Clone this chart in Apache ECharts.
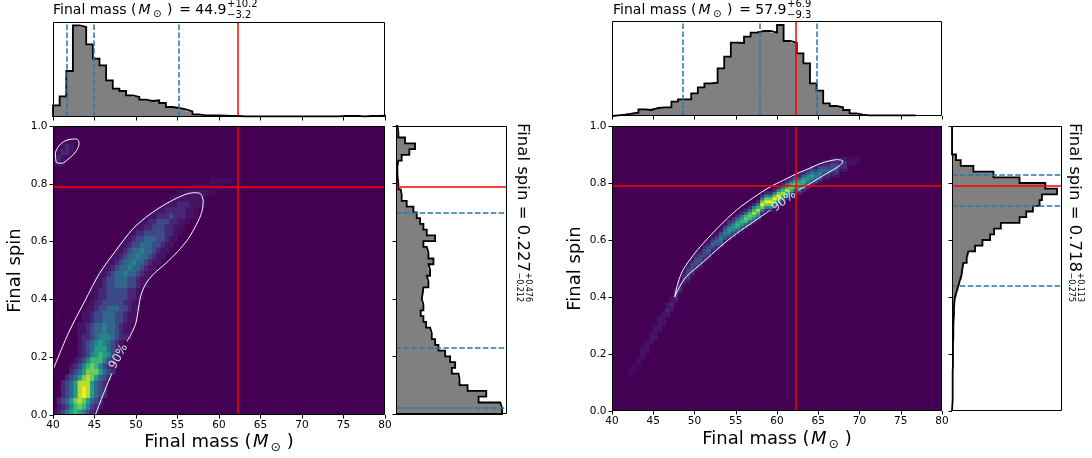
<!DOCTYPE html>
<html>
<head>
<meta charset="utf-8">
<title>Final mass and final spin posteriors</title>
<script src="https://cdn.jsdelivr.net/npm/echarts@6.0.0/dist/echarts.min.js"></script>
<style>
html,body{margin:0;padding:0;background:#ffffff;}
#chart{width:1092px;height:458px;}
</style>
</head>
<body>
<div id="chart"></div>
<script>
// ================= DATA =================
const massTicks = [40, 45, 50, 55, 60, 65, 70, 75, 80];
const spinTicks = [0.0, 0.2, 0.4, 0.6, 0.8, 1.0];
const injectedMass = 62.3;
const injectedSpin = 0.79;

// [median, plus, minus]
const massStatsA = [44.9, 10.2, 3.2];
const spinStatsA = [0.227, 0.476, 0.212];
const massStatsB = [57.9, 6.9, 9.3];
const spinStatsB = [0.718, 0.113, 0.275];

// marginal histograms (arbitrary count units)
const massBinStart = 40;
const massBinWidth = 0.8;
const spinBinWidth = 0.02;
const topHistMax = 285;
const sideHistMaxA = 332;
const sideHistMaxB = 329;

const massHistA = [35, 62, 138, 275, 270, 218, 175, 155, 110, 85, 78, 65, 60, 52, 48, 50, 42, 30, 27, 23,
  17, 8, 5, 5, 5, 4, 3, 3, 2, 2, 2, 2, 2, 2, 2, 2, 2, 2, 2, 2, 2, 2, 2, 3, 3, 3, 2, 3, 3, 4];
const spinHistA = [317, 312, 247, 270, 214, 190, 187, 167, 177, 162, 147, 127, 117, 107, 102, 90, 82, 74, 82, 77,
  80, 82, 97, 92, 102, 97, 112, 97, 92, 82, 117, 92, 82, 72, 62, 52, 32, 17, 14, 7,
  5, 4, 4, 7, 17, 40, 57, 27, 7, 4];
const massHistB = [2, 4, 7, 10, 20, 18, 24, 26, 26, 43, 50, 50, 68, 86, 98, 100, 143, 178, 220, 219,
  238, 250, 255, 255, 250, 273, 225, 220, 188, 158, 98, 76, 38, 30, 26, 18, 8, 4, 2, 2, 2, 2, 2, 2, 2, 2];
const spinHistB = [1, 2, 2, 2, 2, 2, 2, 3, 3, 3, 3, 3, 4, 4, 4, 5, 6, 6, 7, 9,
  14, 19, 24, 29, 31, 34, 44, 49, 69, 91, 114, 126, 146, 202, 222, 242, 262, 269, 314, 279,
  202, 124, 64, 26, 12, 0, 0, 0, 0, 0];

// 2-D posterior density levels 0..9 ('.' = 0.5, ',' = 0.25)
const densityCellMass = 0.5;
const densityCellSpinA = 0.02;
const densityCellSpinB = 0.01;
// left: [spin row, first mass column, levels along mass]
const densityRowsA = [
  [0, 0, ".124565421."],
  [1, 1, ".124676421."],
  [2, 1, "12357875321"],
  [3, 2, "12358985321"],
  [4, 2, "12358985321"],
  [5, 2, "12358885321"],
  [6, 3, "12357875321"],
  [7, 4, "12357775321"],
  [8, 4, ".124676421."],
  [9, 5, ".124666421."],
  [10, 6, ".124565421."],
  [11, 6, ".123555321."],
  [12, 6, ".123454321."],
  [13, 6, ".11234443211."],
  [14, 6, "..123343321.."],
  [15, 6, "..123343321.."],
  [16, 7, "..122333221.."],
  [17, 7, "..122333221.."],
  [18, 8, "..122333221.."],
  [19, 8, ",.112222211.,"],
  [20, 9, ",.112222211.,"],
  [21, 9, ",.112222211.,"],
  [22, 10, "..122333221.."],
  [23, 10, "..122333221.."],
  [24, 11, "..123343321.."],
  [25, 12, "..123343321.."],
  [26, 13, "..123343321.."],
  [27, 14, "..123343321.."],
  [28, 15, "..123343321.."],
  [29, 16, "..122333221.."],
  [30, 17, "..122333221.."],
  [31, 18, ",.112222211.,"],
  [32, 19, ",..1122211..,"],
  [33, 20, ",..1122211..,"],
  [34, 22, ",..1112111..,"],
  [35, 23, "0,..11111..,0"],
  [36, 25, "0,...111...,0"],
  [37, 26, "00,.......,00"],
  [38, 28, "00,,.....,,00"],
  [39, 31, "000,,,,,,,000"],
  [40, 34, "0000,,,,,0000"],
  [43, 0, ",.,"],
  [44, 0, ".1.,"],
  [45, 1, ".11."],
  [46, 2, ".1."],
  [47, 3, ",,"]
];
// right: [mass column, first spin row, levels along spin]
const densityColsB = [
  [4, 12, ",,,"], [5, 14, ",,,"], [6, 16, ",.,"], [7, 18, ",...,"], [8, 20, ",...,"],
  [9, 23, ",...,"], [10, 25, "....."], [11, 28, "....."], [12, 30, "....."], [13, 33, "..1.."],
  [14, 35, "..1.."], [15, 38, ".111."], [16, 41, ".111."], [17, 44, ".111."], [18, 45, ".12221."],
  [19, 47, ".12221."], [20, 49, ".12221."], [21, 50, ".12221."], [22, 52, ".12221."], [23, 53, ".12321."],
  [24, 55, ".12321."], [25, 56, ".12321."], [26, 57, ".23432."], [27, 59, ".23432."], [28, 60, "1245421"],
  [29, 61, "1245421"], [30, 62, "1356531"], [31, 63, "1356531"], [32, 64, "1367631"], [33, 65, "1367631"],
  [34, 66, "1468641"], [35, 67, "1468641"], [36, 69, "1479741"], [37, 70, "1479741"], [38, 70, "1479741"],
  [39, 71, "1479741"], [40, 72, "1479741"], [41, 73, "1468641"], [42, 74, "1468641"], [43, 75, "1367631"],
  [44, 76, "1367631"], [45, 76, "1356531"], [46, 77, "1356531"], [47, 78, "1245421"], [48, 79, "1245421"],
  [49, 79, ".23432."], [50, 80, ".23432."], [51, 81, ".12321."], [52, 81, ".12321."], [53, 82, ".12221."],
  [54, 82, ".12221."], [55, 84, ".111."], [56, 84, ".111."], [57, 86, ",.,"], [58, 86, ",.,"],
  [59, 87, ",,,"]
];

// 90% credible contours [mass, spin]
const contourA1 = [[40, 0.156], [41.85, 0.283], [43.9, 0.398], [45.6, 0.49], [47.6, 0.57], [49.65, 0.645],
  [51.7, 0.695], [53.7, 0.732], [55.5, 0.758], [56.9, 0.769], [57.7, 0.767], [58.1, 0.74], [57.9, 0.70],
  [57.3, 0.66], [56.3, 0.61], [55.0, 0.565], [53.6, 0.525], [52.2, 0.49], [51.2, 0.455], [50.6, 0.415],
  [50.3, 0.37], [50.0, 0.32], [49.5, 0.285], [48.9, 0.254]];
const contourA2 = [[47.1, 0.144], [46.1, 0.075], [45.1, 0.0]];
const contourA3 = [[40.40, 0.873], [40.28, 0.900], [40.80, 0.934], [41.81, 0.952], [42.81, 0.955],
  [43.14, 0.940], [42.73, 0.911], [41.81, 0.885], [41.01, 0.871], [40.40, 0.873]];
const contourB1 = [[62.6, 0.775], [64.0, 0.798], [66.0, 0.833], [67.65, 0.862], [68.0, 0.877], [67.25, 0.882],
  [66.3, 0.877], [65.2, 0.868], [64.0, 0.852], [62.4, 0.833], [60.8, 0.81], [59.15, 0.786], [57.2, 0.75],
  [55.1, 0.705], [53.0, 0.648], [51.05, 0.588], [49.8, 0.545], [48.6, 0.494], [48.0, 0.45], [47.6, 0.40],
  [48.2, 0.436], [49.0, 0.471], [51.05, 0.523], [53.1, 0.576], [55.1, 0.623], [57.1, 0.663], [59.2, 0.705]];
const contourLabelA = [47.9, 0.202];
const contourLabelB = [60.85, 0.736];
const contourLabelText = '90%';

// ================= BUILD =================
const VIRIDIS = ['#440154', '#482475', '#414487', '#355f8d', '#2a788e', '#21918c',
  '#22a884', '#44bf70', '#7ad151', '#bddf26', '#fde725'];
const FONT = '"DejaVu Sans"';
const mMin = massTicks[0], mMax = massTicks[massTicks.length - 1], mInt = massTicks[1] - massTicks[0];
const sMin = spinTicks[0], sMax = spinTicks[spinTicks.length - 1], sInt = +(spinTicks[1] - spinTicks[0]).toFixed(6);

function level(ch) { return ch === '.' ? 0.5 : (ch === ',' ? 0.25 : Number(ch)); }
function cellsFromRows(rows, dM, dS) {
  const out = [];
  rows.forEach(([r, start, s]) => {
    for (let i = 0; i < s.length; i++) {
      const v = level(s[i]); const c = start + i;
      if (v > 0 && c >= 0) out.push([mMin + c * dM, mMin + (c + 1) * dM, r * dS, (r + 1) * dS, v]);
    }
  });
  return out;
}
function cellsFromCols(cols, dM, dS) {
  const out = [];
  cols.forEach(([c, start, s]) => {
    for (let i = 0; i < s.length; i++) {
      const v = level(s[i]); const r = start + i;
      if (v > 0) out.push([mMin + c * dM, mMin + (c + 1) * dM, r * dS, (r + 1) * dS, v]);
    }
  });
  return out;
}
const cellsA = cellsFromRows(densityRowsA, densityCellMass, densityCellSpinA);
const cellsB = cellsFromCols(densityColsB, densityCellMass, densityCellSpinB);

function massBins(counts) { return counts.map((c, k) => [massBinStart + k * massBinWidth, massBinStart + (k + 1) * massBinWidth, c]); }
function spinBins(counts) { return counts.map((c, k) => [k * spinBinWidth, (k + 1) * spinBinWidth, c]); }
function outlineTop(bins) {
  const p = [[bins[0][0], 0]];
  bins.forEach(b => { p.push([b[0], b[2]]); p.push([b[1], b[2]]); });
  p.push([bins[bins.length - 1][1], 0]);
  return p;
}
function outlineSide(bins) {
  const p = [[0, bins[0][0]]];
  bins.forEach(b => { p.push([b[2], b[0]]); p.push([b[2], b[1]]); });
  p.push([0, bins[bins.length - 1][1]]);
  return p;
}

function renderCell(params, api) {
  const a = api.coord([api.value(0), api.value(3)]);
  const b = api.coord([api.value(1), api.value(2)]);
  return { type: 'rect', shape: { x: a[0] - 0.3, y: a[1] - 0.3, width: b[0] - a[0] + 0.6, height: b[1] - a[1] + 0.6 },
    style: { fill: api.visual('color') } };
}

const G = {
  mainA: { left: 53, top: 126, width: 332, height: 289 },
  topA: { left: 53, top: 22, width: 332, height: 95 },
  sideA: { left: 396, top: 126, width: 111, height: 288 },
  mainB: { left: 612, top: 126, width: 330, height: 285 },
  topB: { left: 612, top: 21, width: 330, height: 95 },
  sideB: { left: 952, top: 126, width: 110, height: 285 }
};
const gridOrder = ['mainA', 'topA', 'sideA', 'mainB', 'topB', 'sideB'];
const grids = gridOrder.map(k => Object.assign({
  containLabel: false, outerBoundsMode: 'none',
  show: k.indexOf('main') === 0, backgroundColor: '#440154', borderWidth: 0
}, G[k]));

const tickStyle = { show: true, inside: false, length: 3.5, lineStyle: { color: '#000', width: 1 } };
const labelStyle = { color: '#000', fontSize: 10.5, fontFamily: FONT };
function massAxis(gi, labels) {
  return { type: 'value', gridIndex: gi, min: mMin, max: mMax, interval: mInt, position: 'bottom',
    axisLine: { show: false }, splitLine: { show: false }, axisTick: tickStyle,
    axisLabel: labels ? Object.assign({ show: true, margin: 5 }, labelStyle) : { show: false } };
}
function spinAxis(gi, labels) {
  return { type: 'value', gridIndex: gi, min: sMin, max: sMax, interval: sInt, position: 'left',
    axisLine: { show: false }, splitLine: { show: false }, axisTick: tickStyle,
    axisLabel: labels ? Object.assign({ show: true, margin: 5.5, formatter: v => v.toFixed(1) }, labelStyle) : { show: false } };
}
function hiddenAxis(gi, max) { return { type: 'value', gridIndex: gi, min: 0, max: max, show: false }; }

const RED = '#ff0000', BLUE = '#1f77b4';
function mk(axis, v, color, dashed) {
  const o = { lineStyle: { color: color, width: 1.5, type: dashed ? [5.5, 2.4] : 'solid' } };
  o[axis] = v; return o;
}
function markLines(list) {
  return { silent: true, symbol: ['none', 'none'], label: { show: false }, animation: false, data: list };
}
function statLines(axis, st) {
  return [mk(axis, st[0] - st[2], BLUE, true), mk(axis, st[0], BLUE, true), mk(axis, st[0] + st[1], BLUE, true)];
}

const series = [];
function contour(xi, pts, extra) {
  series.push(Object.assign({ type: 'line', xAxisIndex: xi, yAxisIndex: xi, data: pts, smooth: 0.3, symbol: 'none',
    showSymbol: false, silent: true, z: 3, lineStyle: { color: '#ffffff', width: 1 } }, extra || {}));
}
function contourLabel(xi, pt, rot) {
  series.push({ type: 'scatter', xAxisIndex: xi, yAxisIndex: xi, data: [pt], symbolSize: 1, silent: true, z: 4,
    itemStyle: { color: 'rgba(0,0,0,0)' },
    label: { show: true, position: 'inside', formatter: contourLabelText, rotate: rot, color: '#ffffff',
      fontSize: 12, fontFamily: FONT },
    labelLayout: { hideOverlap: false } });
}
function histFill(xi, pts) {
  series.push({ type: 'custom', xAxisIndex: xi, yAxisIndex: xi, data: [[pts[0][0], pts[0][1]]], silent: true, z: 2,
    renderItem: (params, api) => ({ type: 'polygon', shape: { points: pts.map(p => api.coord(p)) },
      style: { fill: '#808080', stroke: null } }) });
}
function histOutline(xi, pts, lines) {
  series.push({ type: 'line', xAxisIndex: xi, yAxisIndex: xi, data: pts, symbol: 'none', showSymbol: false,
    silent: true, z: 3, lineStyle: { color: '#000', width: 1.8, join: 'miter' }, markLine: markLines(lines) });
}
function topHist(xi, counts, st) {
  const pts = outlineTop(massBins(counts));
  histFill(xi, pts);
  histOutline(xi, pts, statLines('xAxis', st).concat([mk('xAxis', injectedMass, RED, false)]));
}
function sideHist(xi, counts, st) {
  const pts = outlineSide(spinBins(counts));
  histFill(xi, pts);
  histOutline(xi, pts, statLines('yAxis', st).concat([mk('yAxis', injectedSpin, RED, false)]));
}

// left column of panels
series.push({ type: 'custom', xAxisIndex: 0, yAxisIndex: 0, data: cellsA, renderItem: renderCell, clip: true, silent: true, z: 1 });
const heatA = series.length - 1;
contour(0, contourA1, { markLine: markLines([mk('xAxis', injectedMass, RED, false), mk('yAxis', injectedSpin, RED, false)]) });
contour(0, contourA2);
contour(0, contourA3, { smooth: 0.4 });
contourLabel(0, contourLabelA, 62);
topHist(1, massHistA, massStatsA);
sideHist(2, spinHistA, spinStatsA);
// right column of panels
series.push({ type: 'custom', xAxisIndex: 3, yAxisIndex: 3, data: cellsB, renderItem: renderCell, clip: true, silent: true, z: 1 });
const heatB = series.length - 1;
contour(3, contourB1, { markLine: markLines([mk('xAxis', injectedMass, RED, false), mk('yAxis', injectedSpin, RED, false)]) });
contourLabel(3, contourLabelB, 37);
topHist(4, massHistB, massStatsB);
sideHist(5, spinHistB, spinStatsB);

// ---------- texts ----------
const mctx = document.createElement('canvas').getContext('2d');
function fnt(size, italic) { return (italic ? 'italic ' : '') + size + 'px ' + FONT; }
function tw(t, size, italic) { mctx.font = fnt(size, italic); return mctx.measureText(t).width; }
function txt(t, x, y, size, italic, align) {
  return { type: 'text', x: x, y: y, silent: true, z: 110,
    style: { text: t, font: fnt(size, italic), fill: '#000', align: align || 'left', verticalAlign: 'middle',
      textAlign: align || 'left', textVerticalAlign: 'middle' } };
}
function runText(segs) {
  let x = 0; const els = [];
  segs.forEach(s => { x += s.gap || 0; els.push(txt(s.t, x, s.dy || 0, s.size, s.italic)); x += tw(s.t, s.size, s.italic); });
  return { els: els, width: x };
}
function massTitle(x0, yMid, st) {
  const r = runText([
    { t: 'Final mass (', size: 14 },
    { t: 'M', size: 14, italic: true, gap: 2 },
    { t: '\u2299', size: 10, dy: 4.5, gap: 2.5 },
    { t: ')', size: 14, gap: 5.5 },
    { t: '= ' + st[0].toFixed(1), size: 14, gap: 6.8 }
  ]);
  r.els.push(txt('+' + st[1].toFixed(1), r.width + 0.5, -5.8, 10));
  r.els.push(txt('\u2212' + st[2].toFixed(1), r.width + 0.5, 4.6, 10));
  return { type: 'group', x: x0, y: yMid, children: r.els };
}
function massName(cx, yMid) {
  const r = runText([
    { t: 'Final mass (', size: 18 },
    { t: 'M', size: 18, italic: true, gap: 1.5 },
    { t: '\u2299', size: 12.6, dy: 5.5, gap: 2 },
    { t: ')', size: 18, gap: 5.5 }
  ]);
  return { type: 'group', x: cx - r.width / 2, y: yMid, children: r.els };
}
function spinName(cx, cy) {
  return { type: 'group', x: cx, y: cy, rotation: Math.PI / 2, children: [txt('Final spin', 0, 0, 18, false, 'center')] };
}
function spinLabel(x0, y0, st) {
  const main = 'Final spin = ' + st[0].toFixed(3);
  const w = tw(main, 16.5);
  return { type: 'group', x: x0, y: y0, rotation: -Math.PI / 2, children: [
    txt(main, 0, 0, 16.5),
    txt('+' + st[1].toFixed(3), w + 0.5, -5.2, 8),
    txt('\u2212' + st[2].toFixed(3), w + 0.5, 3.6, 8)
  ] };
}
const frames = gridOrder.map(k => ({ type: 'rect', z: 100, silent: true,
  shape: { x: G[k].left + 0.5, y: G[k].top + 0.5, width: G[k].width - 1, height: G[k].height - 1 },
  style: { fill: 'none', stroke: '#000', lineWidth: 1 } }));

const graphics = frames.concat([
  massTitle(53, 10.4, massStatsA),
  massTitle(613, 10.4, massStatsB),
  massName(219, 442.7),
  massName(777, 439.7),
  spinName(15.5, 270.5),
  spinName(575.5, 268.5),
  spinLabel(522.5, 123, spinStatsA),
  spinLabel(1074.5, 123, spinStatsB)
]);

const chart = echarts.init(document.getElementById('chart'), null, { renderer: 'canvas' });
chart.setOption({
  animation: false,
  backgroundColor: '#ffffff',
  grid: grids,
  xAxis: [massAxis(0, true), massAxis(1, false), hiddenAxis(2, sideHistMaxA), massAxis(3, true), massAxis(4, false), hiddenAxis(5, sideHistMaxB)],
  yAxis: [spinAxis(0, true), hiddenAxis(1, topHistMax), spinAxis(2, false), spinAxis(3, true), hiddenAxis(4, topHistMax), spinAxis(5, false)],
  visualMap: [{ type: 'continuous', show: false, min: 0, max: 9, dimension: 4, seriesIndex: [heatA, heatB],
    inRange: { color: VIRIDIS } }],
  series: series,
  graphic: { elements: graphics }
});
</script>
</body>
</html>
